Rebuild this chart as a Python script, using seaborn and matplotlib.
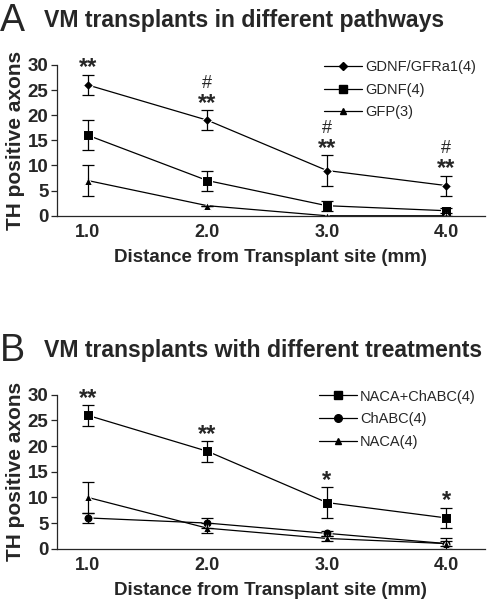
import matplotlib
matplotlib.use("Agg")
import matplotlib.pyplot as plt
import pandas as pd
import seaborn as sns

DIST = [1.0, 2.0, 3.0, 4.0]

# panel A
A_NAMES = ['GDNF/GFRa1(4)', 'GDNF(4)', 'GFP(3)']
A_MEAN = [[26, 19, 9, 6], [16, 7, 2, 1], [7, 2, 0, 0]]
A_ERR = [[2, 2, 3, 2], [3, 2, 1, 0.5], [3, 0, 0, 0]]
A_STARS = ['**', '**', '**', '**']
A_HASH = ['', '#', '#', '#']

# panel B
B_NAMES = ['NACA+ChABC(4)', 'ChABC(4)', 'NACA(4)']
B_MEAN = [[26, 19, 9, 6], [6, 5, 3, 1], [10, 4, 2, 1]]
B_ERR = [[2, 2, 3, 2], [1, 1, 0.5, 1], [3, 1, 0.5, 0.5]]
B_STARS = ['**', '**', '*', '*']
B_HASH = ['', '', '', '']

FONT = ['Liberation Sans', 'DejaVu Sans']


def to_long(names, means):
    rows = []
    for name, vals in zip(names, means):
        for d, v in zip(DIST, vals):
            rows.append({'dist': d, 'val': v, 'group': name})
    return pd.DataFrame(rows)


def panel(ax, letter, title, names, means, errs, stars, hashes, markers, sizes):
    df = to_long(names, means)
    sns.lineplot(data=df, x='dist', y='val', hue='group', style='group',
                 hue_order=names, style_order=names,
                 palette=['black'] * 3, markers=markers, dashes=False,
                 linewidth=0.9, ax=ax, legend=False)
    for line, s in zip(ax.lines, sizes):
        line.set_markersize(s)
    for vals, err in zip(means, errs):
        ax.errorbar(DIST, vals, yerr=err, fmt='none', ecolor='black',
                    elinewidth=0.9, capsize=4, capthick=0.9)

    # significance marks above the top series
    top = means[0]
    top_err = errs[0]
    for d, v, e, st, h in zip(DIST, top, top_err, stars, hashes):
        y = v + e + 0.3
        ax.text(d, y - 1.2, st, ha='center', va='bottom', fontsize=17,
                fontweight='bold', family=FONT)
        if h:
            ax.text(d, y + 3.4, h, ha='center', va='bottom', fontsize=13,
                    family=FONT)

    handles = []
    for name, m, s in zip(names, markers, sizes):
        h, = ax.plot([], [], color='black', marker=m, markersize=s - 1,
                     linewidth=0.9, label=name)
        handles.append(h)
    ax.legend(handles=handles, loc='upper right', frameon=False,
              prop={'family': FONT, 'size': 10.5}, handlelength=2.6,
              handletextpad=0.2, labelspacing=0.6,
              bbox_to_anchor=(1.01, 1.12))

    ax.set_xlim(0.74, 4.32)
    ax.set_ylim(0, 30)
    ax.set_xticks(DIST)
    ax.set_xticklabels([f'{d:.1f}' for d in DIST])
    ax.set_yticks([0, 5, 10, 15, 20, 25, 30])
    ax.tick_params(axis='x', length=0, pad=6, labelsize=13)
    ax.tick_params(axis='y', length=4, width=0.9, pad=2, labelsize=13.5,
                   direction='out')
    for lab in ax.get_xticklabels() + ax.get_yticklabels():
        lab.set_fontweight('bold')
        lab.set_family(FONT)
    sns.despine(ax=ax)
    for sp in ax.spines.values():
        sp.set_linewidth(0.9)
    ax.set_xlabel('Distance from Transplant site (mm)', fontsize=13.5,
                  fontweight='bold', family=FONT, labelpad=6)
    ax.set_ylabel('TH positive axons', fontsize=15, fontweight='bold',
                  family=FONT, labelpad=2)

    fig = ax.figure
    bb = ax.get_position()
    fig.text(0.0, bb.y1 + 0.073, letter, fontsize=27, family=FONT, va='center')
    fig.text(0.089, bb.y1 + 0.074, title, fontsize=16.6, fontweight='bold',
             family=FONT, va='center')


sns.set_theme(style='ticks')
plt.rcParams['font.family'] = FONT

fig = plt.figure(figsize=(4.9, 6.01), dpi=100)
ax_a = fig.add_axes([0.116, 0.641, 0.873, 0.251])
ax_b = fig.add_axes([0.116, 0.087, 0.873, 0.256])

panel(ax_a, 'A', 'VM transplants in different pathways', A_NAMES, A_MEAN,
      A_ERR, A_STARS, A_HASH, ['D', 's', '^'], [5, 7, 6])
panel(ax_b, 'B', 'VM transplants with different treatments', B_NAMES, B_MEAN,
      B_ERR, B_STARS, B_HASH, ['s', 'o', '^'], [7, 6.5, 6])

fig.savefig('out.png', dpi=100)
